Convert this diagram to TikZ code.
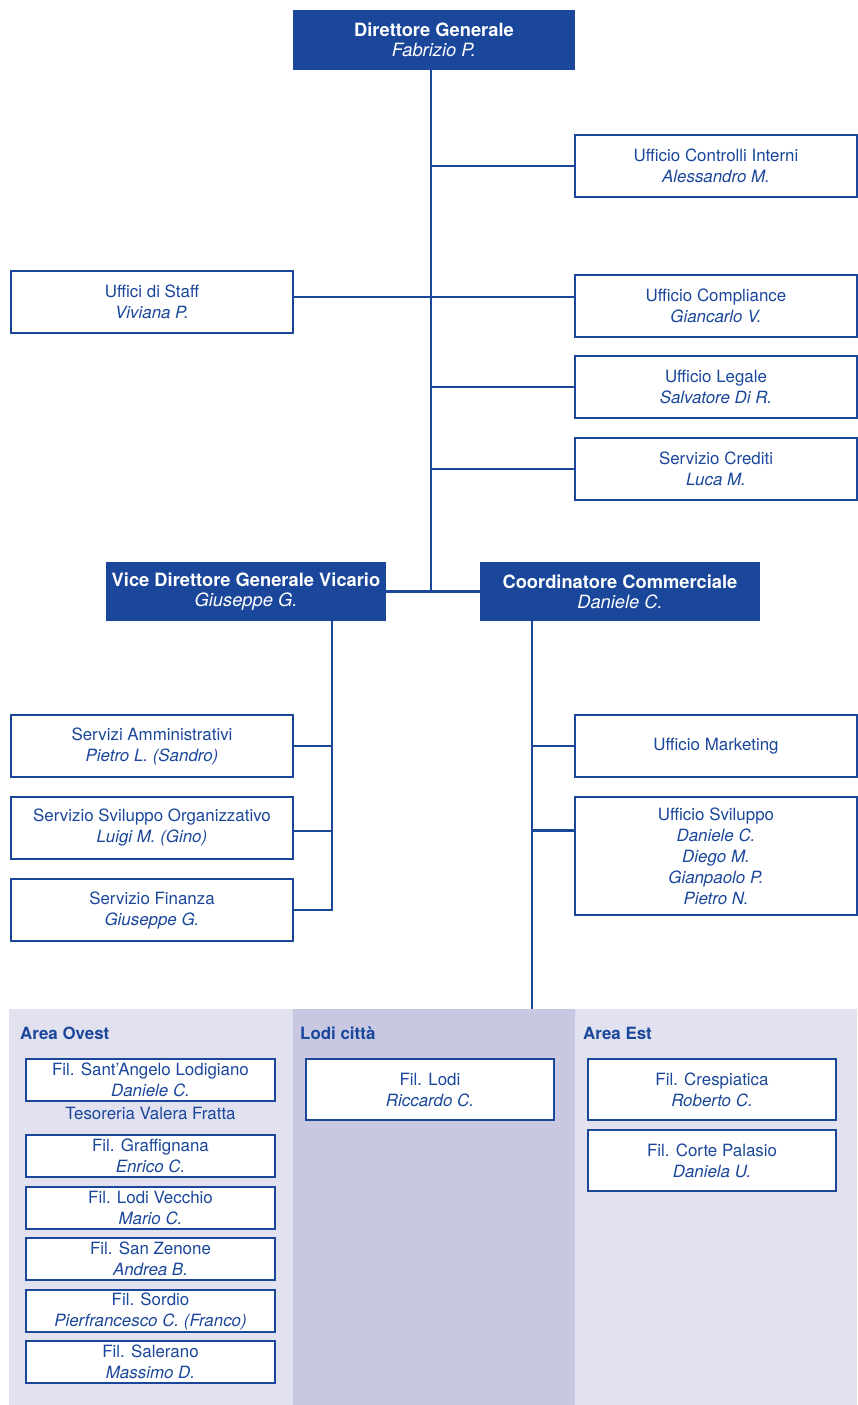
\documentclass[tikz,border=0pt]{standalone}
\usepackage{fontspec}
\setmainfont{TeX Gyre Heros}
\usepackage{tikz}
\usetikzlibrary{positioning,calc}
\definecolor{bpblu}{HTML}{1B479B}
\definecolor{areachiara}{HTML}{E1E1F0}
\definecolor{areascura}{HTML}{C8C8E3}
\tikzset{
  capo/.style={rectangle,fill=bpblu,text=white,minimum width=282pt,minimum height=60pt,inner sep=0pt,align=center,font=\fontsize{18.3}{20}\selectfont},
  uff/.style={rectangle,draw=bpblu,line width=1.3pt,fill=white,text=bpblu,minimum width=282pt,minimum height=62pt,inner sep=0pt,align=center,font=\fontsize{16.9}{21}\selectfont},
  fil/.style={uff,minimum width=249pt,minimum height=42pt},
  filg/.style={uff,minimum width=248pt,minimum height=61pt},
  areat/.style={anchor=west,inner sep=0pt,text=bpblu,font=\bfseries\fontsize{16.9}{21}\selectfont},
  nota/.style={inner sep=0pt,text=bpblu,font=\fontsize{16.9}{21}\selectfont},
  lin/.style={draw=bpblu,line width=2.8pt}
}

\begin{document}
\begin{tikzpicture}[x=1pt,y=-1pt]
\useasboundingbox (0,0) rectangle (857,1405);
\fill[areachiara] (9,1009) rectangle (293,1405);
\fill[areascura] (293,1009) rectangle (575,1405);
\fill[areachiara] (575,1009) rectangle (857,1405);
\node[capo] (dg) at (434,40) {\textbf{Direttore Generale}\\\textit{Fabrizio P.}};
\node[uff] (uci) at (716,166) {Ufficio Controlli Interni\\\textit{Alessandro M.}};
\node[uff] (staff) at (152,302) {Uffici di Staff\\\textit{Viviana P.}};
\node[uff] (compl) at (716,306) {Ufficio Compliance\\\textit{Giancarlo V.}};
\node[uff] (leg) at (716,387) {Ufficio Legale\\\textit{Salvatore Di R.}};
\node[uff] (cred) at (716,469) {Servizio Crediti\\\textit{Luca M.}};
\node[capo,minimum width=280pt,minimum height=59pt] (vdg) at (246,591.5) {\textbf{Vice Direttore Generale Vicario}\\\textit{Giuseppe G.}};
\node[capo,minimum width=280pt,minimum height=59pt] (cc) at (620,591.5) {\textbf{Coordinatore Commerciale}\\\textit{Daniele C.}};
\node[uff] (amm) at (152,746) {Servizi Amministrativi\\\textit{Pietro L. (Sandro)}};
\node[uff] (svorg) at (152,828) {Servizio Sviluppo Organizzativo\\\textit{Luigi M. (Gino)}};
\node[uff] (fin) at (152,910) {Servizio Finanza\\\textit{Giuseppe G.}};
\node[uff] (mkt) at (716,746) {Ufficio Marketing};
\node[uff,minimum height=118pt] (svil) at (716,856) {Ufficio Sviluppo\\\textit{Daniele C.}\\\textit{Diego M.}\\\textit{Gianpaolo P.}\\\textit{Pietro N.}};
\node[areat] (ovest) at (20,1033) {Area Ovest};
\node[areat] (citta) at (300,1033) {Lodi città};
\node[areat] (est) at (583,1033) {Area Est};
\node[fil] (santang) at (150.5,1080) {Fil. Sant’Angelo Lodigiano\\\textit{Daniele C.}};
\node[nota] (tesor) at (150.5,1113) {Tesoreria Valera Fratta};
\node[fil] (graff) at (150.5,1156) {Fil. Graffignana\\\textit{Enrico C.}};
\node[fil] (lvecc) at (150.5,1208) {Fil. Lodi Vecchio\\\textit{Mario C.}};
\node[fil] (szen) at (150.5,1259) {Fil. San Zenone\\\textit{Andrea B.}};
\node[fil] (sord) at (150.5,1311) {Fil. Sordio\\\textit{Pierfrancesco C. (Franco)}};
\node[fil] (saler) at (150.5,1362) {Fil. Salerano\\\textit{Massimo D.}};
\node[filg] (lodi) at (430,1089.5) {Fil. Lodi\\\textit{Riccardo C.}};
\node[filg] (cresp) at (712,1089.5) {Fil. Crespiatica\\\textit{Roberto C.}};
\node[filg] (corte) at (712,1160.5) {Fil. Corte Palasio\\\textit{Daniela U.}};
\coordinate (tr) at (431,591.5);
\coordinate (j1) at (431,297);
\coordinate (sx) at (332,0);
\coordinate (ax) at (532,1009);
\coordinate (o1) at ([yshift=-3pt]svorg.east);
\coordinate (s1) at ([yshift=-34pt]svil.north west);
\draw[lin] (dg.south -| tr) -- (tr);
\draw[lin] (uci.west) -- (uci.west -| tr);
\draw[lin] (staff.east |- j1) -- (compl.west |- j1);
\draw[lin] (leg.west) -- (leg.west -| tr);
\draw[lin] (cred.west) -- (cred.west -| tr);
\draw[lin] (vdg.east) -- (cc.west);
\draw[lin] (vdg.south -| sx) -- (fin.east -| sx) -- (fin.east);
\draw[lin] (amm.east) -- (amm.east -| sx);
\draw[lin] (o1) -- (o1 -| sx);
\draw[lin] (cc.south -| ax) -- (ax);
\draw[lin] (mkt.west) -- (mkt.west -| ax);
\draw[lin] (s1) -- (s1 -| ax);
\end{tikzpicture}
\end{document}
